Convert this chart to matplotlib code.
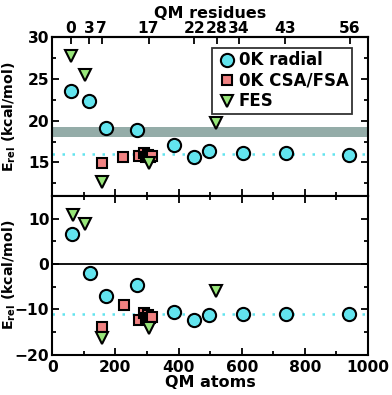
import numpy as np
import matplotlib
matplotlib.use('Agg')
import matplotlib.pyplot as plt
from matplotlib.ticker import MultipleLocator

plt.rcParams['font.family'] = ['DejaVu Sans']
plt.rcParams['font.weight'] = 'bold'
plt.rcParams['mathtext.fontset'] = 'dejavusans'

# 0K radial (circles)
rad_x_top = [60, 118, 171, 268, 387, 450, 498, 603, 739, 941]
rad_y_top = [23.6, 22.4, 19.1, 18.9, 17.1, 15.7, 16.35, 16.15, 16.1, 15.9]
rad_x_bot = [64, 120, 171, 268, 387, 450, 497, 603, 739, 941]
rad_y_bot = [6.6, -1.9, -7.0, -4.6, -10.5, -12.3, -11.3, -11.1, -11.0, -11.1]

# 0K CSA/FSA (squares)
csa_x_top = [159, 224, 274, 290, 297, 303, 310, 315]
csa_y_top = [14.95, 15.7, 15.75, 16.1, 15.7, 15.9, 15.6, 15.8]
csa_x_bot = [159, 226, 274, 292, 298, 304, 310, 315]
csa_y_bot = [-14.0, -9.1, -12.3, -10.8, -11.8, -11.2, -12.0, -11.7]

# FES (triangles)
fes_x_top = [60, 104, 159, 307, 519]
fes_y_top = [27.7, 25.5, 12.7, 14.9, 19.7]
fes_x_bot = [65, 104, 159, 307, 519]
fes_y_bot = [10.9, 8.9, -16.3, -14.1, -5.9]

res_pos = [60, 118, 157, 305, 450, 521, 592, 737, 943]
res_lab = ['0', '3', '7', '17', '22', '28', '34', '43', '56']

ref_top = 16.07
ref_bot = -11.05
band = (18.1, 19.2)

c_rad = '#62e4ee'
c_csa = '#f08282'
c_fes = '#98e67a'

fs = 11.2

fig = plt.figure(figsize=(3.92, 3.95), dpi=100)
ax1 = fig.add_axes([0.133, 0.504, 0.806, 0.402])
ax2 = fig.add_axes([0.133, 0.102, 0.806, 0.402])

for ax in (ax1, ax2):
    ax.set_xlim(0, 1000)
    ax.xaxis.set_major_locator(MultipleLocator(200))
    ax.xaxis.set_minor_locator(MultipleLocator(100))
    ax.tick_params(which='both', direction='in', right=True, width=1.3,
                   labelsize=fs, pad=2)
    ax.tick_params(which='major', length=5)
    ax.tick_params(which='minor', length=3)
    for s in ax.spines.values():
        s.set_linewidth(1.5)

ax1.axhspan(band[0], band[1], color='#94aca8', lw=0, zorder=0)
ax1.axhline(ref_top, color=c_rad, ls=(0, (1, 3)), lw=1.8, zorder=1)
ax2.axhline(ref_bot, color=c_rad, ls=(0, (1, 3)), lw=1.8, zorder=1)
ax2.axhline(0, color='black', lw=1.3, zorder=1)

kw = dict(ls='none', mec='black', mew=1.5, zorder=3)
ax1.plot(rad_x_top, rad_y_top, 'o', ms=9.5, mfc=c_rad, label='0K radial', **kw)
ax1.plot(csa_x_top, csa_y_top, 's', ms=7, mfc=c_csa, label='0K CSA/FSA', **kw)
ax1.plot(fes_x_top, fes_y_top, 'v', ms=8.5, mfc=c_fes, label='FES', **kw)
ax2.plot(rad_x_bot, rad_y_bot, 'o', ms=9.5, mfc=c_rad, **kw)
ax2.plot(csa_x_bot, csa_y_bot, 's', ms=7, mfc=c_csa, **kw)
ax2.plot(fes_x_bot, fes_y_bot, 'v', ms=8.5, mfc=c_fes, **kw)

ax1.set_ylim(11, 30)
ax1.yaxis.set_minor_locator(MultipleLocator(2.5))
ax1.set_yticks([15, 20, 25, 30])
ax1.tick_params(labelbottom=False, top=False, which='both')

ax2.set_ylim(-20, 15)
ax2.set_yticks([-20, -10, 0, 10])
ax2.yaxis.set_minor_locator(MultipleLocator(5))
ax2.tick_params(top=True, which='both')
ax2.tick_params(axis='x', pad=3.5)
ax2.set_xlabel('QM atoms', fontsize=11.5, fontweight='bold', labelpad=0)

top = ax1.secondary_xaxis('top')
top.set_xticks(res_pos)
top.set_xticklabels(res_lab)
top.tick_params(direction='in', length=5, width=1.3, labelsize=fs, pad=1)
top.set_xlabel('QM residues', fontsize=11.5, fontweight='bold', labelpad=2)
top.spines['top'].set_linewidth(1.5)

ylab = r'E$_{\mathbf{rel}}$ (kcal/mol)'
for ax in (ax1, ax2):
    ax.set_ylabel(ylab, fontsize=10.2, fontweight='bold')
    ax.yaxis.set_label_coords(-0.107, 0.5)

leg = ax1.legend(loc='upper right', bbox_to_anchor=(0.949, 0.931),
                 fontsize=12, frameon=True, fancybox=False,
                 edgecolor='black', handletextpad=0.0, borderpad=0.2,
                 labelspacing=0.15, handlelength=1.4, borderaxespad=0)
leg.get_frame().set_linewidth(1.3)
leg.set_zorder(5)

plt.savefig('out.png', dpi=100)
